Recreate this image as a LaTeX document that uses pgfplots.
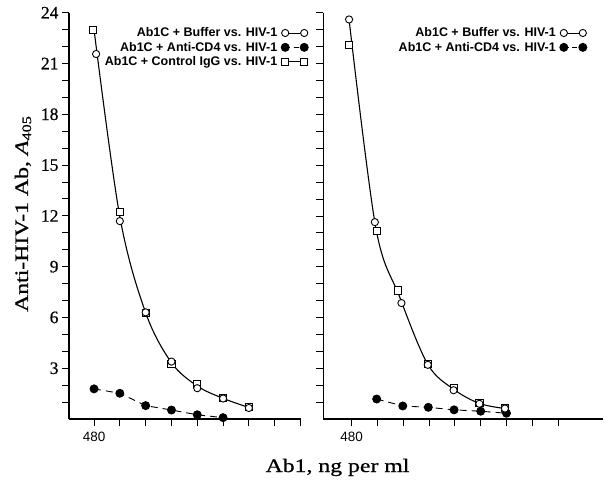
\documentclass[border=0pt]{standalone}
\usepackage{fontspec}
\usepackage{pgfplots}
\pgfplotsset{compat=1.18}
\setmainfont{Liberation Serif}
\newfontfamily\labfont[FakeStretch=1.25,FakeBold=0.8]{Liberation Serif}
\newfontfamily\tickfont[FakeBold=0.6]{Liberation Serif}
\newfontfamily\legfont{Liberation Sans}

\pgfplotsset{
  panel/.style={
    scale only axis, height=406.3pt, ymin=0, ymax=24,
    axis x line*=bottom, axis y line*=left,
    axis line style={line width=1.2pt},
    tick align=outside, tick style={black,line width=0.9pt},
    major tick length=7pt, minor tick length=7pt,
    /pgf/number format/assume math mode=true,
    xtick={0,...,8}, xticklabels={480,,,,,,,,},
    xticklabel style={font=\fontsize{13.5}{14}\selectfont\legfont, yshift=-3pt},
    ytick={3,6,...,24}, minor ytick={1,2,...,23},
    yticklabel style={font=\fontsize{17.5}{18}\selectfont\tickfont},
    clip=false,
    legend style={draw=none, fill=none, anchor=north east,
      font=\fontsize{12.5}{14.5}\selectfont\bfseries\legfont,
      row sep=1.8pt, column sep=3pt, inner sep=0pt,
      nodes={inner sep=1pt}},
    legend cell align=right,
    legend plot pos=right,
    legend image code/.code={\draw[#1] plot coordinates {(0pt,0pt) (19pt,0pt)};},
  },
  opencirc/.style={black, line width=0.9pt, mark=*, mark size=3.6pt, mark options={fill=white, solid, line width=0.9pt}},
  opensq/.style={black, line width=0.9pt, mark=square*, mark size=3.6pt, mark options={fill=white, solid, line width=0.9pt}},
  fillcirc/.style={black, line width=0.9pt, mark=*, mark size=4pt, mark options={fill=black, solid}},
}

\begin{document}
\begin{tikzpicture}[x=1pt,y=1pt]
\useasboundingbox (0,0) rectangle (605,482);

% ---------- left panel ----------
\begin{axis}[panel, at={(69pt,63pt)}, anchor=south west, width=232pt,
  xmin=-0.97, xmax=8.02,
  legend style={at={(1.032,0.966)}}]
\addlegendimage{opencirc, solid}
\addlegendentry{Ab1C + Buffer vs. HIV-1}
\addlegendimage{fillcirc, dash pattern=on 5pt off 3.5pt}
\addlegendentry{Ab1C + Anti-CD4 vs. HIV-1}
\addlegendimage{opensq, solid}
\addlegendentry{Ab1C + Control IgG vs. HIV-1}
% fitted curve
\addplot[black, line width=1.1pt, smooth, tension=0.55, forget plot] coordinates {
 (0,23.0) (1,11.95) (2,6.28) (3,3.33) (4,1.95) (5,1.22) (6,0.68)};
% anti-CD4 dashed
\addplot[fillcirc, dash pattern=on 7pt off 5pt, forget plot] coordinates {
 (0,1.78) (1,1.52) (2,0.79) (3,0.53) (4,0.25) (5,0.08)};
% control IgG squares
\addplot[opensq, only marks, forget plot] coordinates {
 (-0.03,22.98) (1,12.22) (2,6.25) (3,3.26) (4,2.08) (5,1.24) (6,0.70)};
% buffer circles
\addplot[opencirc, only marks, forget plot] coordinates {
 (0.08,21.56) (1,11.69) (2,6.30) (3,3.39) (4,1.82) (5,1.21) (6,0.65)};
\end{axis}

% ---------- right panel ----------
\begin{axis}[panel, at={(323pt,63pt)}, anchor=south west, width=280pt,
  xmin=-1.11, xmax=9.74,
  yticklabels={},
  y axis line style={line width=0.6pt},
  ytick style={line width=0.6pt},
  legend style={at={(0.943,0.966)}}]
\addlegendimage{opencirc, solid}
\addlegendentry{Ab1C + Buffer vs. HIV-1}
\addlegendimage{fillcirc, dash pattern=on 5pt off 3.5pt}
\addlegendentry{Ab1C + Anti-CD4 vs. HIV-1}
\addplot[black, line width=1.1pt, smooth, tension=0.55, forget plot] coordinates {
 (-0.1,23.6) (0.93,11.35) (1.85,7.25) (2.95,3.23) (3.95,1.76) (4.95,0.92) (5.94,0.62)};
\addplot[fillcirc, dash pattern=on 7pt off 5pt, forget plot] coordinates {
 (0.97,1.18) (1.98,0.77) (2.97,0.69) (3.97,0.54) (5.0,0.46) (6.0,0.34)};
\addplot[opensq, only marks, forget plot] coordinates {
 (-0.1,22.1) (0.97,11.1) (1.8,7.59) (2.95,3.27) (3.95,1.82) (4.95,0.95) (5.94,0.64)};
\addplot[opencirc, only marks, forget plot] coordinates {
 (-0.1,23.6) (0.9,11.63) (1.93,6.85) (2.95,3.2) (3.95,1.7) (4.95,0.9) (5.94,0.62)};
\end{axis}

% ---------- axis titles ----------
\node[rotate=90, anchor=base] at (28,268) {\fontsize{19}{20}\selectfont\labfont Anti-HIV-1 Ab, \textit{A}\raisebox{-0.35ex}{\fontsize{13}{13}\selectfont 405}};
\node[anchor=base] at (337.5,10) {\fontsize{19}{20}\selectfont\labfont Ab1, ng per ml};
\end{tikzpicture}
\end{document}
